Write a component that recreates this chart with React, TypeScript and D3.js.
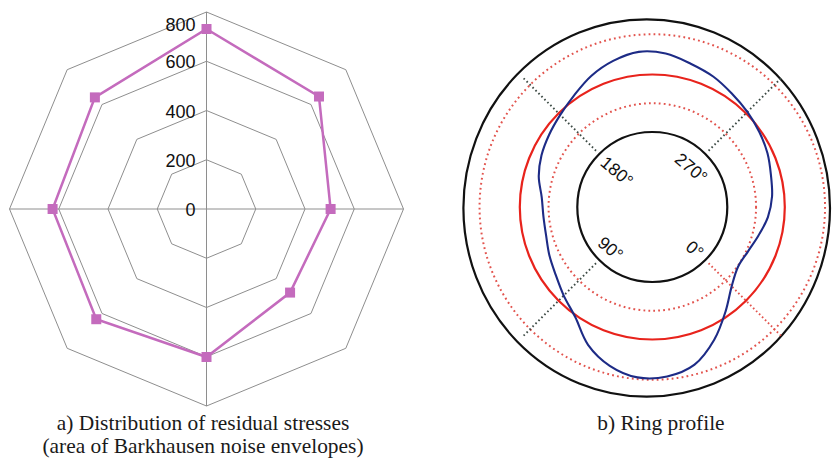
import React from "react";
import * as d3 from "d3";

const W = 832;
const H = 459;

// ---------- a) Radar: residual stresses ----------
const radarCategories = ["0°", "45°", "90°", "135°", "180°", "225°", "270°", "315°"];
const radarValues = [731, 646, 504, 480, 601, 633, 625, 641];
const radarTicks = [0, 200, 400, 600, 800];
const radarMax = 800;

// ---------- b) Ring profile ----------
const profileAngles = [
  0, 10, 20, 30, 40, 50, 60, 70, 80, 90, 100, 110, 120, 130, 140, 150, 160, 170,
  180, 190, 200, 210, 220, 230, 240, 250, 260, 270, 280, 290, 300, 310, 320, 330, 340, 350,
];
const profileDeviation = [
  -17.6, -4.2, 12.2, 26.7, 32.7, 33.5, 27.7, 17.0, 1.6, -6.3, -12.6, -16.4, -19.6, -20.2,
  -18.7, -13.0, -8.9, -5.7, -2.0, 3.3, 10.5, 16.3, 20.2, 18.7, 13.8, 10.0, 5.3, 1.7, -1.6,
  -4.7, -8.4, -10.7, -14.3, -19.6, -23.5, -24.3,
];
const nominalDeviation = 0;
const toleranceLevels = [-25, 35];
const radialDomain = [-50, 50];
const angleTicks = [0, 90, 180, 270];
const angleTickLabels = ["0°", "90°", "180°", "270°"];
const angleLabelRadius = [60, 59, 50, 55];
const spokeExtent = [-46, 45];

const captionA = ["a) Distribution of residual stresses", "(area of Barkhausen noise envelopes)"];
const captionB = "b) Ring profile";

function Radar() {
  const cx = 206.5;
  const cy = 209;
  const r = d3.scaleLinear().domain([0, radarMax]).range([0, 197]);
  const n = radarCategories.length;
  const ang = d3
    .scalePoint<string>()
    .domain(radarCategories)
    .range([0, (2 * Math.PI * (n - 1)) / n]);

  const ringPath = (v: number) =>
    d3
      .lineRadial<string>()
      .angle((c) => ang(c) as number)
      .radius(() => r(v))
      .curve(d3.curveLinearClosed)(radarCategories) as string;

  const dataLine = d3
    .lineRadial<number>()
    .angle((_, i) => ang(radarCategories[i]) as number)
    .radius((v) => r(v))
    .curve(d3.curveLinearClosed)(radarValues) as string;

  const R = r(radarMax);
  const col = "#c46bbd";
  return (
    <g transform={`translate(${cx},${cy})`}>
      {radarTicks
        .filter((t) => t > 0)
        .map((t) => (
          <path key={t} d={ringPath(t)} fill="none" stroke="#8e8e8e" strokeWidth={1} />
        ))}
      <line x1={0} y1={-R} x2={0} y2={R} stroke="#8e8e8e" strokeWidth={1} />
      <line x1={-R} y1={0} x2={R} y2={0} stroke="#8e8e8e" strokeWidth={1} />
      <path d={dataLine} fill="none" stroke={col} strokeWidth={2.5} />
      {radarValues.map((v, i) => {
        const a = ang(radarCategories[i]) as number;
        const x = Math.sin(a) * r(v);
        const y = -Math.cos(a) * r(v);
        return <rect key={i} x={x - 5} y={y - 5} width={10} height={10} fill={col} />;
      })}
      {radarTicks.map((t) => (
        <text
          key={t}
          x={-11}
          y={Math.max(-r(t) + 1, -R + 13)}
          textAnchor="end"
          dominantBaseline="central"
          fontFamily="'Liberation Sans', Arial, sans-serif"
          fontSize={18}
          fill="#111"
        >
          {t}
        </text>
      ))}
    </g>
  );
}

function RingProfile() {
  const cx = 652.3;
  const cy = 207;
  const r = d3.scaleLinear().domain(radialDomain).range([75, 190]);
  // data angle 0° lies at lower-right, increasing clockwise on screen
  const a = d3
    .scaleLinear()
    .domain([0, 360])
    .range([(135 * Math.PI) / 180, (495 * Math.PI) / 180]);

  const profile = d3
    .lineRadial<number>()
    .angle((_, i) => a(profileAngles[i]))
    .radius((v) => r(v))
    .curve(d3.curveCatmullRomClosed)(profileDeviation) as string;

  const pos = (deg: number, rad: number) => {
    const t = a(deg);
    return [Math.sin(t) * rad, -Math.cos(t) * rad];
  };

  const dotRed = "#e2534d";
  return (
    <g>
      <ellipse cx={646.7} cy={208} rx={183.3} ry={188.7} fill="none" stroke="#111" strokeWidth={2.2} />
      <g transform={`translate(${cx},${cy})`}>
        {toleranceLevels.map((t) => (
          <circle
            key={t}
            r={r(t)}
            fill="none"
            stroke={dotRed}
            strokeWidth={2}
            strokeDasharray="1.8 3.2"
          />
        ))}
        {angleTicks.map((d) => {
          const [x1, y1] = pos(d, r(spokeExtent[0]));
          const [x2, y2] = pos(d, r(spokeExtent[1]));
          return (
            <line
              key={d}
              x1={x1}
              y1={y1}
              x2={x2}
              y2={y2}
              stroke={d === 0 ? dotRed : "#3c4a44"}
              strokeWidth={1.9}
              strokeDasharray="1.6 2.6"
            />
          );
        })}
        <circle r={r(radialDomain[0])} fill="none" stroke="#111" strokeWidth={2.2} />
        <circle r={r(nominalDeviation)} fill="none" stroke="#e8231c" strokeWidth={2.2} />
        <path d={profile} fill="none" stroke="#1d2b86" strokeWidth={2.1} />
        {angleTicks.map((d, i) => {
          const [x, y] = pos(d, angleLabelRadius[i]);
          return (
            <text
              key={d}
              transform={`translate(${x},${y}) rotate(40)`}
              textAnchor="middle"
              dominantBaseline="central"
              fontFamily="'Liberation Sans', Arial, sans-serif"
              fontSize={17.5}
              fill="#111"
            >
              {angleTickLabels[i]}
            </text>
          );
        })}
      </g>
    </g>
  );
}

function Caption({ x, y, text }: { x: number; y: number; text: string }) {
  return (
    <text
      transform={`translate(${x},${y}) scale(1.02,1)`}
      textAnchor="middle"
      fontFamily="'Liberation Serif', 'Times New Roman', serif"
      fontSize={21}
      fill="#1a1a1a"
    >
      {text}
    </text>
  );
}

export default function App() {
  return (
    <svg
      width={W}
      height={H}
      viewBox={`0 0 ${W} ${H}`}
      style={{ position: "absolute", left: 0, top: 0, background: "#fff" }}
    >
      <rect width={W} height={H} fill="#fff" />
      <Radar />
      <RingProfile />
      <Caption x={203} y={430} text={captionA[0]} />
      <Caption x={203} y={453} text={captionA[1]} />
      <Caption x={661} y={430} text={captionB} />
    </svg>
  );
}
